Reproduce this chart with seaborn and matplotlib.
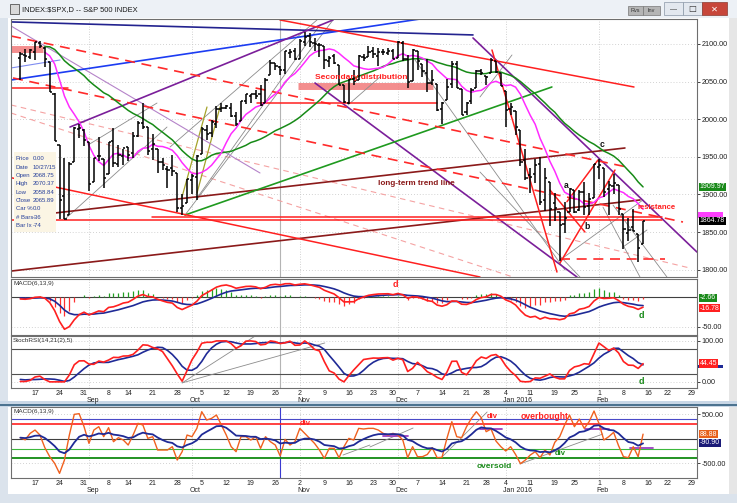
import numpy as np
import pandas as pd
import matplotlib
matplotlib.use("Agg")
import matplotlib.pyplot as plt
import matplotlib.transforms as mtrans
from matplotlib.patches import Rectangle
import seaborn as sns

sns.set_style("white")
plt.rcParams["font.family"] = ["Liberation Sans", "DejaVu Sans"]

# ---------------- data ----------------
# trading sessions on the x axis; the last ten (after Feb 12) are empty
holidays = ["2015-09-07", "2015-11-26", "2015-12-25", "2016-01-01", "2016-01-18", "2016-02-15"]
sessions = [d.strftime("%Y-%m-%d") for d in pd.bdate_range("2015-08-12", "2016-02-29")]
sessions = [d for d in sessions if d not in holidays]
pos = {d: i for i, d in enumerate(sessions)}

# closes before the first bar, only to seed the averages / oscillators
warmup_closes = [2068.76, 2081.34, 2046.68, 2051.31, 2076.62, 2099.60, 2108.95, 2107.40, 2124.29,
                 2126.64, 2128.28, 2119.21, 2114.15, 2102.15, 2079.65, 2067.64, 2093.25, 2108.57,
                 2108.63, 2103.84, 2098.04, 2093.32, 2099.84, 2083.56, 2077.57, 2104.18, 2084.07]

# daily bars 2015-08-12 .. 2016-02-12
opens = [2081, 2086, 2083, 2089, 2101, 2095, 2076, 2034, 1966, 1898, 1872, 1943, 1987, 1986,
         1970, 1917, 1951, 1947, 1927, 1971, 1941, 1951, 1963, 1955, 1978, 1995, 1990,
         1961, 1961, 1943, 1934, 1935, 1929, 1882, 1888, 1919, 1923, 1954, 1986, 1982, 1993, 2014,
         2015, 2015, 2004, 1997, 2024, 2031, 2033, 2034, 2022, 2059, 2075, 2068.75, 2066, 2088, 2090,
         2080, 2102, 2111, 2101, 2098, 2097, 2078, 2084, 2072, 2045, 2022, 2054, 2052, 2083, 2083,
         2090, 2084, 2089, 2088, 2090, 2082, 2101, 2080, 2051, 2090, 2073, 2061, 2048, 2047,
         2013, 2026, 2047, 2074, 2040, 2010, 2024, 2042, 2064, 2058, 2061, 2077, 2061,
         2038, 2013, 2011, 1985, 1946, 1926, 1927, 1940, 1892, 1917, 1889, 1877, 1861, 1877,
         1906, 1879, 1903, 1885, 1895, 1936, 1935, 1907, 1911, 1913, 1874, 1849, 1857, 1848, 1834]
highs = [2089, 2093, 2093, 2103, 2104, 2096, 2076, 2035, 1966, 1948, 1943, 1989, 1993, 1987,
         1970, 1949, 1976, 1947, 1970, 1988, 1966, 1961, 1963, 1983, 1998, 2021, 1990,
         1980, 1961, 1949, 1938, 1953, 1929, 1900, 1921, 1927, 1952, 1989, 1992, 1999, 2017, 2021,
         2019, 2022, 2009, 2024, 2033, 2034, 2039, 2045, 2055, 2079, 2075, 2070.37, 2090, 2093, 2094,
         2106, 2116, 2114, 2108, 2101, 2097, 2084, 2087, 2072, 2045, 2054, 2066, 2085, 2087, 2097,
         2096, 2094, 2093, 2094, 2093, 2104, 2104, 2085, 2093, 2090, 2073, 2080, 2065, 2047,
         2023, 2053, 2077, 2077, 2040, 2023, 2042, 2065, 2067, 2058, 2081, 2077, 2062,
         2038, 2022, 2011, 1986, 1960, 1935, 1947, 1950, 1935, 1917, 1902, 1877, 1890, 1908,
         1906, 1906, 1917, 1902, 1940, 1947, 1935, 1918, 1927, 1913, 1874, 1869, 1881, 1848, 1865]
lows = [2052, 2076, 2080, 2079, 2094, 2070, 2036, 1971, 1867, 1867, 1872, 1943, 1975, 1965,
        1904, 1917, 1945, 1909, 1927, 1937, 1937, 1939, 1945, 1948, 1976, 1987, 1952,
        1946, 1929, 1933, 1908, 1925, 1876, 1872, 1888, 1900, 1893, 1954, 1973, 1976, 1988, 2009,
        2013, 2003, 1991, 1997, 2020, 2022, 2027, 2017, 2022, 2059, 2066, 2058.84, 2060, 2082, 2079,
        2080, 2097, 2096, 2090, 2083, 2067, 2070, 2074, 2045, 2022, 2020, 2046, 2052, 2078, 2083,
        2081, 2071, 2086, 2085, 2080, 2082, 2077, 2042, 2051, 2066, 2056, 2036, 2046, 2011,
        1993, 2026, 2041, 2041, 2005, 2005, 2020, 2042, 2059, 2045, 2061, 2061, 2044,
        1990, 2005, 1979, 1938, 1919, 1902, 1915, 1886, 1878, 1858, 1864, 1812, 1849, 1877,
        1875, 1878, 1872, 1873, 1895, 1921, 1897, 1872, 1901, 1873, 1828, 1838, 1851, 1810, 1834]
closes = [2086.05, 2083.39, 2091.54, 2102.44, 2096.92, 2079.61, 2035.73, 1970.89, 1893.21, 1867.61,
          1940.51, 1987.66, 1988.87, 1972.18, 1913.85, 1948.86, 1951.13, 1921.22, 1969.41, 1942.04,
          1952.29, 1961.05, 1953.03, 1978.09, 1995.31, 1990.20, 1958.03, 1966.97, 1942.74, 1938.76,
          1932.24, 1931.34, 1881.77, 1884.09, 1920.03, 1923.82, 1951.36, 1987.05, 1979.92, 1995.83,
          2013.43, 2014.89, 2017.46, 2003.69, 1994.24, 2023.86, 2033.11, 2033.66, 2030.77, 2018.94,
          2052.51, 2075.15, 2071.18, 2065.89, 2090.35, 2089.41, 2079.36, 2104.05, 2109.79, 2102.31,
          2099.93, 2099.20, 2078.58, 2081.72, 2075.00, 2045.97, 2023.04, 2053.19, 2050.44, 2083.58,
          2081.24, 2089.17, 2086.59, 2089.14, 2088.87, 2090.11, 2080.41, 2102.63, 2079.51, 2049.62,
          2091.69, 2077.07, 2063.59, 2047.62, 2052.23, 2012.37, 2021.94, 2043.41, 2073.07, 2041.89,
          2005.55, 2021.15, 2038.97, 2064.29, 2060.99, 2056.50, 2078.36, 2063.36, 2043.94, 2012.66,
          2016.71, 1990.26, 1943.09, 1922.03, 1923.67, 1938.68, 1890.28, 1921.84, 1880.33, 1881.33,
          1859.33, 1868.99, 1906.90, 1877.08, 1903.63, 1882.95, 1893.36, 1940.24, 1939.38, 1903.03,
          1912.53, 1915.45, 1880.05, 1853.44, 1852.21, 1851.86, 1829.08, 1864.78]

# lower panel oscillator (orange line)
breadth = [17, -27, 105, 173, 71, -187, -371, -507, -711, -439, 71, 493, 507, 241, -99, 173, 241, 37,
           221, -65, 17, -31, -133, 71, 309, 275, 3, 37, -235, -235, -235, -167, -439, -269, 71, 37,
           207, 547, 377, 411, 479, 275, 71, -167, -269, 37, 37, -31, 37, -201, 37, -65, -133, -357,
           -17, -133, -65, 207, 105, 3, -99, -235, -405, -201, -201, -391, -167, 3, -31, 207, 194, 207,
           207, 173, 105, 71, 105, 71, -31, -391, -167, -371, -371, -326, -187, -391, -384, 3, 343, 37,
           17, 241, 411, 547, 425, 139, 194, -51, -167, -255, -167, -326, -513, -439, -337, -269, -391,
           -235, -337, -78, 37, 275, 479, 241, 398, 207, 343, 561, 309, -31, 37, 126, -146, -371, -391,
           -167, -371, 89]

tick_dates = ["2015-08-17", "2015-08-24", "2015-08-31", "2015-09-08", "2015-09-14", "2015-09-21",
              "2015-09-28", "2015-10-05", "2015-10-12", "2015-10-19", "2015-10-26", "2015-11-02",
              "2015-11-09", "2015-11-16", "2015-11-23", "2015-11-30", "2015-12-07", "2015-12-14",
              "2015-12-21", "2015-12-28", "2016-01-04", "2016-01-11", "2016-01-19", "2016-01-25",
              "2016-02-01", "2016-02-08", "2016-02-16", "2016-02-22", "2016-02-29"]
month_starts = ["2015-09-01", "2015-10-01", "2015-11-02", "2015-12-01", "2016-01-04", "2016-02-01"]
month_labels = ["Sep", "Oct", "Nov", "Dec", "Jan 2016", "Feb"]
cursor_date = "2015-10-27"

# value tags shown on the right axes (partly hidden ones are bare strips)
price_tags = [(1909.97, "1909.97"), (1864.78, "1864.78")]
price_hidden = (1868.0, 1877.0)
macd_tags = [(-2.66, "-2.66"), (-16.78, "-16.78")]
stoch_tags = [(44.45, "44.45")]
stoch_hidden = (33.0, 40.0)
lower_tags = [(88.88, "88.88"), (-90.90, "-90.90")]

info_labels = ["Price", "Date", "Open", "High", "Low", "Close", "Car %", "# Bars", "Bar Ix"]
info_values = ["0.00", "10/27/15", "2068.75", "2070.37", "2058.84", "2065.89", "0.0", "-36", "-74"]

# hand drawn trend lines: (bar index, price) pairs
navy_lines = [((-1.89, 2129.3), (92.32, 2112.0))]
blue_lines = [((-1.89, 2052.1), (81.51, 2133.2))]
lightblue_lines = [((-1.89, 2068.1), (8.10, 2078.7))]
purple_lines = [((10.14, 1989.6), (63.77, 2131.9)), ((60.10, 2048.1), (113.52, 1790.2)),
                ((92.32, 2108.0), (137.99, 1823.4))]
red_lines = [((52.96, 2131.9), (125.15, 2042.8)), ((-1.89, 1922.2), (93.74, 1790.2)),
             ((96.19, 2092.0), (109.44, 1796.8)), ((110.06, 1808.8), (121.27, 1932.4)),
             ((111.48, 1890.3), (117.80, 1945.7)), ((108.02, 1905.8), (115.15, 1850.0)),
             ((-1.89, 2041.5), (9.73, 2041.5)), ((48.27, 2021.9), (84.98, 2021.9)),
             ((-1.89, 1866.6), (130.86, 1866.6)), ((26.86, 1870.3), (130.86, 1870.3))]
red_dashed = [((-1.89, 2110.6), (123.72, 1936.4)), ((-1.49, 2054.8), (135.14, 1863.3)),
              ((110.06, 1814.1), (131.47, 1814.1))]
pink_dashed = [((-1.89, 2008.2), (100.47, 1790.2)), ((-1.89, 2018.9), (136.57, 1802.1))]
lavender_lines = [((-1.89, 2123.9), (48.88, 1928.5))]
maroon_lines = [((7.08, 1875.3), (123.3, 1961.7)), ((-1.89, 1798.1), (126.37, 1892.6))]
green_lines = [((33.59, 1872.6), (108.4, 2042.8))]
gray_lines = [((9.12, 1867.3), (29.92, 1989.6)), ((30.53, 1963.0), (60.50, 2131.9)),
              ((33.59, 1872.6), (63.77, 2131.9)), ((36.04, 1895.2), (61.12, 2125.3)),
              ((66.83, 2018.9), (73.35, 2056.1)), ((80.49, 2078.7), (111.07, 1799.5)),
              ((93.74, 2029.5), (100.27, 2085.4)), ((93.74, 1929.8), (114.13, 1790.2)),
              ((110.06, 1812.8), (126.98, 1892.6)), ((118.82, 1883.2), (126.37, 1790.2)),
              ((120.86, 1885.9), (131.87, 1790.2)), ((122.90, 1830.1), (127.80, 1852.7)),
              ((13.81, 1965.7), (27.88, 2021.5))]
olive_lines = [((32.97, 1896.5), (38.07, 2016.2)), ((36.04, 1901.9), (40.72, 2016.2))]
highlight_bars = [((-1.89, 2093.4), (4.63, 2093.4)), ((56.63, 2044.1), (84.16, 2044.1))]
stoch_gray = [((33.0, -2.5), (47.9, 112.0)), ((33.0, -2.5), (62.1, 95.0))]
lower_gray = [((65.8, -337), (71.3, -133)), ((71.3, -173), (80.1, 214)),
              ((86.0, -377), (95.2, 541)), ((101.9, -520), (118.8, 92))]
lower_purple = [((74.0, 51), (79.0, 51)), ((93.8, 184), (98.2, 184)),
                ((115.1, 204), (120.0, 204)), ((124.3, -194), (129.0, -194))]
lower_levels = [400, 290, 0, -220, -404]

# ---------------- indicators ----------------
n0 = len(warmup_closes)
close_all = pd.Series(warmup_closes + closes, dtype=float)
ma10 = close_all.rolling(10).mean().iloc[n0:].to_numpy()
ma30 = close_all.rolling(30).mean().iloc[n0:].to_numpy()
macd = close_all.ewm(span=6, adjust=False).mean() - close_all.ewm(span=13, adjust=False).mean()
signal = macd.ewm(span=9, adjust=False).mean()
hist = (macd - signal).iloc[n0:].to_numpy()
macd = macd.iloc[n0:].to_numpy()
signal = signal.iloc[n0:].to_numpy()

delta = close_all.diff()
gain = delta.clip(lower=0).ewm(alpha=1 / 14, adjust=False).mean()
loss = (-delta.clip(upper=0)).ewm(alpha=1 / 14, adjust=False).mean()
rsi = 100 - 100 / (1 + gain / loss)
lo = rsi.rolling(21, min_periods=1).min()
hi = rsi.rolling(21, min_periods=1).max()
stoch = (rsi - lo) / (hi - lo) * 100
k_line = stoch.rolling(2, min_periods=1).mean()
d_line = k_line.rolling(5, min_periods=1).mean()
k_line = k_line.iloc[n0:].to_numpy()
d_line = d_line.iloc[n0:].to_numpy()

breadth_sig = pd.Series(breadth, dtype=float).ewm(span=9, adjust=False).mean().to_numpy()

x = np.arange(len(closes))
month_pos = [pos[d] for d in month_starts]
cursor_pos = pos[cursor_date]

# ---------------- figure / window chrome ----------------
W, H = 737, 503
fig = plt.figure(figsize=(W / 100, H / 100), dpi=100, facecolor="#dbe3ec")


def frame(x0, y0, x1, y1):
    return [x0 / W, 1 - y1 / H, (x1 - x0) / W, (y1 - y0) / H]


def patch(x0, y0, x1, y1, fc, z=-1, ec="none", lw=0):
    fig.add_artist(Rectangle((x0 / W, 1 - y1 / H), (x1 - x0) / W, (y1 - y0) / H,
                             transform=fig.transFigure, fc=fc, ec=ec, lw=lw, zorder=z))


patch(0, 0, 737, 18, "#edf1f6")
patch(8, 18, 729, 401, "white")
patch(8, 407, 729, 494, "white")
patch(729, 18, 737, 494, "#e6e6e6")
patch(0, 401, 737, 407, "#c9d7e6")
fig.add_artist(plt.Line2D([0, 1], [1 - 404.5 / H] * 2, transform=fig.transFigure,
                          color="#34607f", lw=1.2, zorder=-0.5))
patch(10, 4, 19, 14, "#d9d9d9", z=1, ec="#555555", lw=0.6)
fig.text(22 / W, 1 - 9.5 / H, "INDEX:$SPX,D -- S&P 500 INDEX", fontsize=5.4, va="center",
         color="#1a1a1a")
patch(628, 6, 643, 15, "#b5b5b5", z=1, ec="#777777", lw=0.5)
patch(643, 6, 660, 15, "#b5b5b5", z=1, ec="#777777", lw=0.5)
fig.text(635.5 / W, 1 - 10.5 / H, "Rvs", fontsize=4, ha="center", va="center", color="#333")
fig.text(651.5 / W, 1 - 10.5 / H, "Inv", fontsize=4, ha="center", va="center", color="#333")
patch(664, 2, 683, 15, "#e3e8ef", z=1, ec="#8a97a6", lw=0.5)
patch(683, 2, 702, 15, "#e3e8ef", z=1, ec="#8a97a6", lw=0.5)
patch(702, 2, 727, 15, "#c7463a", z=1, ec="#8a3a30", lw=0.5)
fig.text(673.5 / W, 1 - 10 / H, "\u2014", fontsize=5, ha="center", va="center", color="#333")
fig.text(692.5 / W, 1 - 9 / H, "\u25a1", fontsize=6, ha="center", va="center", color="#333",
         family="DejaVu Sans")
fig.text(714.5 / W, 1 - 9 / H, "\u2715", fontsize=6, ha="center", va="center", color="white",
         family="DejaVu Sans")

ax_p = fig.add_axes(frame(11, 19, 697, 277))
ax_m = fig.add_axes(frame(11, 279, 697, 335))
ax_s = fig.add_axes(frame(11, 336, 697, 388))
ax_b = fig.add_axes(frame(11, 407, 697, 478))


def style(ax, ylim, yticks, cursor_color="#b4b4b4"):
    ax.set_xlim(-1.9, 138.0)
    ax.set_ylim(*ylim)
    ax.set_facecolor("white")
    ax.set_xlabel("")
    ax.set_ylabel("")
    for s in ax.spines.values():
        s.set_color("#6e6e6e")
        s.set_linewidth(0.8)
    ax.yaxis.tick_right()
    ax.set_yticks(yticks)
    ax.set_yticklabels([f"{v:.2f}" for v in yticks])
    ax.tick_params(axis="y", length=2, width=0.6, labelsize=5.2, pad=1.5, colors="#222222")
    ax.set_xticks([])
    for m in month_pos:
        ax.axvline(m, color="#c4c4c4", lw=0.6, ls=(0, (1, 2)), zorder=0)
    for v in yticks:
        ax.axhline(v, color="#c4c4c4", lw=0.6, ls=(0, (1, 2.5)), zorder=0)
    ax.axvline(cursor_pos, color=cursor_color, lw=0.8, zorder=0.5)


def draw(ax, segs, **kw):
    for (a, b) in segs:
        ax.plot([a[0], b[0]], [a[1], b[1]], **kw)


def tag(ax, y, text, fc, tc="white"):
    ax.text(1.004, y, text, transform=mtrans.blended_transform_factory(ax.transAxes, ax.transData),
            fontsize=5.0, color=tc, va="center", ha="left", clip_on=False, zorder=6,
            bbox=dict(boxstyle="square,pad=0.12", fc=fc, ec="none"))


def strip(ax, span, fc):
    tr = mtrans.blended_transform_factory(ax.transAxes, ax.transData)
    ax.add_patch(Rectangle((1.002, span[0]), 0.036, span[1] - span[0], transform=tr, fc=fc,
                           lw=0, clip_on=False, zorder=2))


def date_axis(ax, frac):
    ax.set_xticks([pos[d] for d in tick_dates])
    ax.set_xticklabels([str(pd.Timestamp(d).day) for d in tick_dates])
    ax.tick_params(axis="x", length=1, width=0.6, labelsize=5.0, pad=0.2, colors="#222222")
    tr = mtrans.blended_transform_factory(ax.transData, ax.transAxes)
    for d, lab in zip(month_starts, month_labels):
        ax.text(pos[d] - 0.5, frac, lab, transform=tr, fontsize=5.0, ha="left", va="center",
                color="#222222")


# ---------------- price panel ----------------
ax = ax_p
draw(ax, highlight_bars, color="#f27a7a", lw=5, alpha=0.85, solid_capstyle="butt", zorder=1)
draw(ax, pink_dashed, color="#f5a3a3", lw=0.8, ls=(0, (5, 4)), zorder=1.5)
draw(ax, gray_lines, color="#8c8c8c", lw=0.6, zorder=1.6)
draw(ax, olive_lines, color="#a5a32a", lw=0.9, zorder=1.6)
draw(ax, lavender_lines, color="#b583c9", lw=0.8, zorder=1.7)
draw(ax, navy_lines, color="#23238f", lw=1.2, zorder=1.8)
draw(ax, blue_lines, color="#1c3cf2", lw=1.2, zorder=1.8)
draw(ax, lightblue_lines, color="#7f8cf0", lw=0.8, zorder=1.8)
draw(ax, purple_lines, color="#7b1f9a", lw=1.2, zorder=1.8)
draw(ax, maroon_lines, color="#8b1a1a", lw=1.2, zorder=1.8)
draw(ax, green_lines, color="#1f9a1f", lw=1.2, zorder=1.8)
draw(ax, red_dashed, color="#ff2a2a", lw=1.2, ls=(0, (6, 4)), zorder=1.9)
draw(ax, red_lines, color="#ff2020", lw=1.1, zorder=1.9)

sns.lineplot(x=x[5:], y=ma30[5:], ax=ax, color="#178a17", linewidth=1.1, legend=False, zorder=3)
sns.lineplot(x=x[5:], y=ma10[5:], ax=ax, color="#ff2cff", linewidth=1.1, legend=False, zorder=3)

ax.vlines(x, lows, highs, color="black", lw=1.1, zorder=4)
ax.hlines(opens, x - 0.45, x, color="black", lw=1.1, zorder=4)
ax.hlines(closes, x, x + 0.45, color="black", lw=1.1, zorder=4)
style(ax, (1790.2, 2133.2), list(range(1800, 2101, 50)))

ax.text(60.1, 2056, "Secondary distribution", color="#ff2020", fontsize=6.0, fontweight="bold",
        va="center", ha="left", zorder=5)
ax.text(73.0, 1915, "long-term trend line", color="#8b1a1a", fontsize=5.9, fontweight="bold",
        va="center", ha="left", zorder=5)
ax.text(125.9, 1883, "resistance", color="#ff2020", fontsize=5.6, fontweight="bold",
        va="center", ha="left", zorder=5)
for lab, (xi, yp) in zip(["a", "b", "c"], [(111.3, 1912.5), (115.6, 1856.7), (118.6, 1965.7)]):
    ax.text(xi, yp, lab, color="#111111", fontsize=6.2, fontweight="bold", ha="center",
            va="center", zorder=5)
tag(ax, price_tags[0][0], price_tags[0][1], "#1a8a1a")
strip(ax, price_hidden, "#ff40ff")
tag(ax, price_tags[1][0], price_tags[1][1], "black")

# info box
patch(14, 152, 56, 232, "#fbf5e4", z=5)
for j, (lab, val) in enumerate(zip(info_labels, info_values)):
    yy = 1 - (159 + j * 8.3) / H
    fig.text(15.5 / W, yy, lab, fontsize=4.3, color="#27409a", va="center", zorder=6)
    fig.text(32.5 / W, yy, val, fontsize=4.3, color="#27409a", va="center", zorder=6)

# ---------------- MACD panel ----------------
ax = ax_m
ax.vlines(x, 0, hist, colors=np.where(hist >= 0, "#22a022", "#ff3030"), lw=0.9, zorder=2)
sns.lineplot(x=x, y=signal, ax=ax, color="#1f2a96", linewidth=1.2, legend=False, zorder=3)
sns.lineplot(x=x, y=macd, ax=ax, color="#ff2020", linewidth=1.2, legend=False, zorder=3)
style(ax, (-64, 31), [-50])
ax.axhline(0, color="#404040", lw=0.8, zorder=1)
ax.text(0.003, 0.97, "MACD(6,13,9)", transform=ax.transAxes, fontsize=4.6, va="top", color="#333")
ax.text(76.4, 22, "d", color="#ff2020", fontsize=6.5, fontweight="bold", ha="center", va="center")
ax.text(126.6, -31, "d", color="#1a8a1a", fontsize=6.5, fontweight="bold", ha="center", va="center")
tag(ax, macd_tags[0][0] + 1.5, macd_tags[0][1], "#1a8a1a")
tag(ax, macd_tags[1][0] - 1.5, macd_tags[1][1], "#ff2020")

# ---------------- StochRSI panel ----------------
ax = ax_s
sns.lineplot(x=x, y=d_line, ax=ax, color="#1f2a96", linewidth=1.2, legend=False, zorder=3)
sns.lineplot(x=x, y=k_line, ax=ax, color="#ff2020", linewidth=1.2, legend=False, zorder=3)
draw(ax, stoch_gray, color="#8c8c8c", lw=0.6, zorder=2)
style(ax, (-15, 112), [0, 100])
for lvl in (20, 80):
    ax.axhline(lvl, color="#505050", lw=0.8, zorder=1)
ax.text(0.003, 0.97, "StochRSI(14,21(2),5)", transform=ax.transAxes, fontsize=4.6, va="top",
        color="#333")
ax.text(126.6, 2, "d", color="#1a8a1a", fontsize=6.5, fontweight="bold", ha="center", va="center")
strip(ax, stoch_hidden, "#1f2a96")
tag(ax, stoch_tags[0][0], stoch_tags[0][1], "#ff2020")
date_axis(ax, -0.235)

# ---------------- lower oscillator panel ----------------
ax = ax_b
for lvl, col, lw in zip(lower_levels, ["#4a4ac8", "#ff2020", "#404040", "#3cb83c", "#108a10"],
                        [0.8, 1.2, 0.8, 0.8, 1.3]):
    ax.axhline(lvl, color=col, lw=lw, zorder=1)
sns.lineplot(x=x, y=breadth, ax=ax, color="#f0601e", linewidth=1.0, legend=False, zorder=3)
sns.lineplot(x=x, y=breadth_sig, ax=ax, color="#1f2a96", linewidth=1.3, legend=False, zorder=3)
draw(ax, lower_gray, color="#8c8c8c", lw=0.6, zorder=2)
draw(ax, lower_purple, color="#9b3fc0", lw=1.3, zorder=2.5)
style(ax, (-806, 643), [-500, 500], cursor_color="#3a3ad0")
ax.text(0.003, 0.97, "MACD(6,13,9)", transform=ax.transAxes, fontsize=4.6, va="top", color="#333")
ax.text(58.1, 316, "div", color="#ff2020", fontsize=5.5, fontweight="bold", ha="center", va="center")
ax.text(96.2, 439, "div", color="#ff2020", fontsize=5.5, fontweight="bold", ha="center", va="center")
ax.text(102.1, 439, "overbought", color="#ff2020", fontsize=6.2, fontweight="bold", ha="left",
        va="center")
ax.text(110.1, -316, "div", color="#1a8a1a", fontsize=5.5, fontweight="bold", ha="center",
        va="center")
ax.text(93.1, -581, "oversold", color="#1a8a1a", fontsize=6.0, fontweight="bold", ha="left",
        va="center")
tag(ax, lower_tags[0][0], lower_tags[0][1], "#e8601c")
tag(ax, lower_tags[1][0], lower_tags[1][1], "#1a1a78")
date_axis(ax, -0.178)

fig.savefig("out.png", dpi=100, facecolor=fig.get_facecolor())
